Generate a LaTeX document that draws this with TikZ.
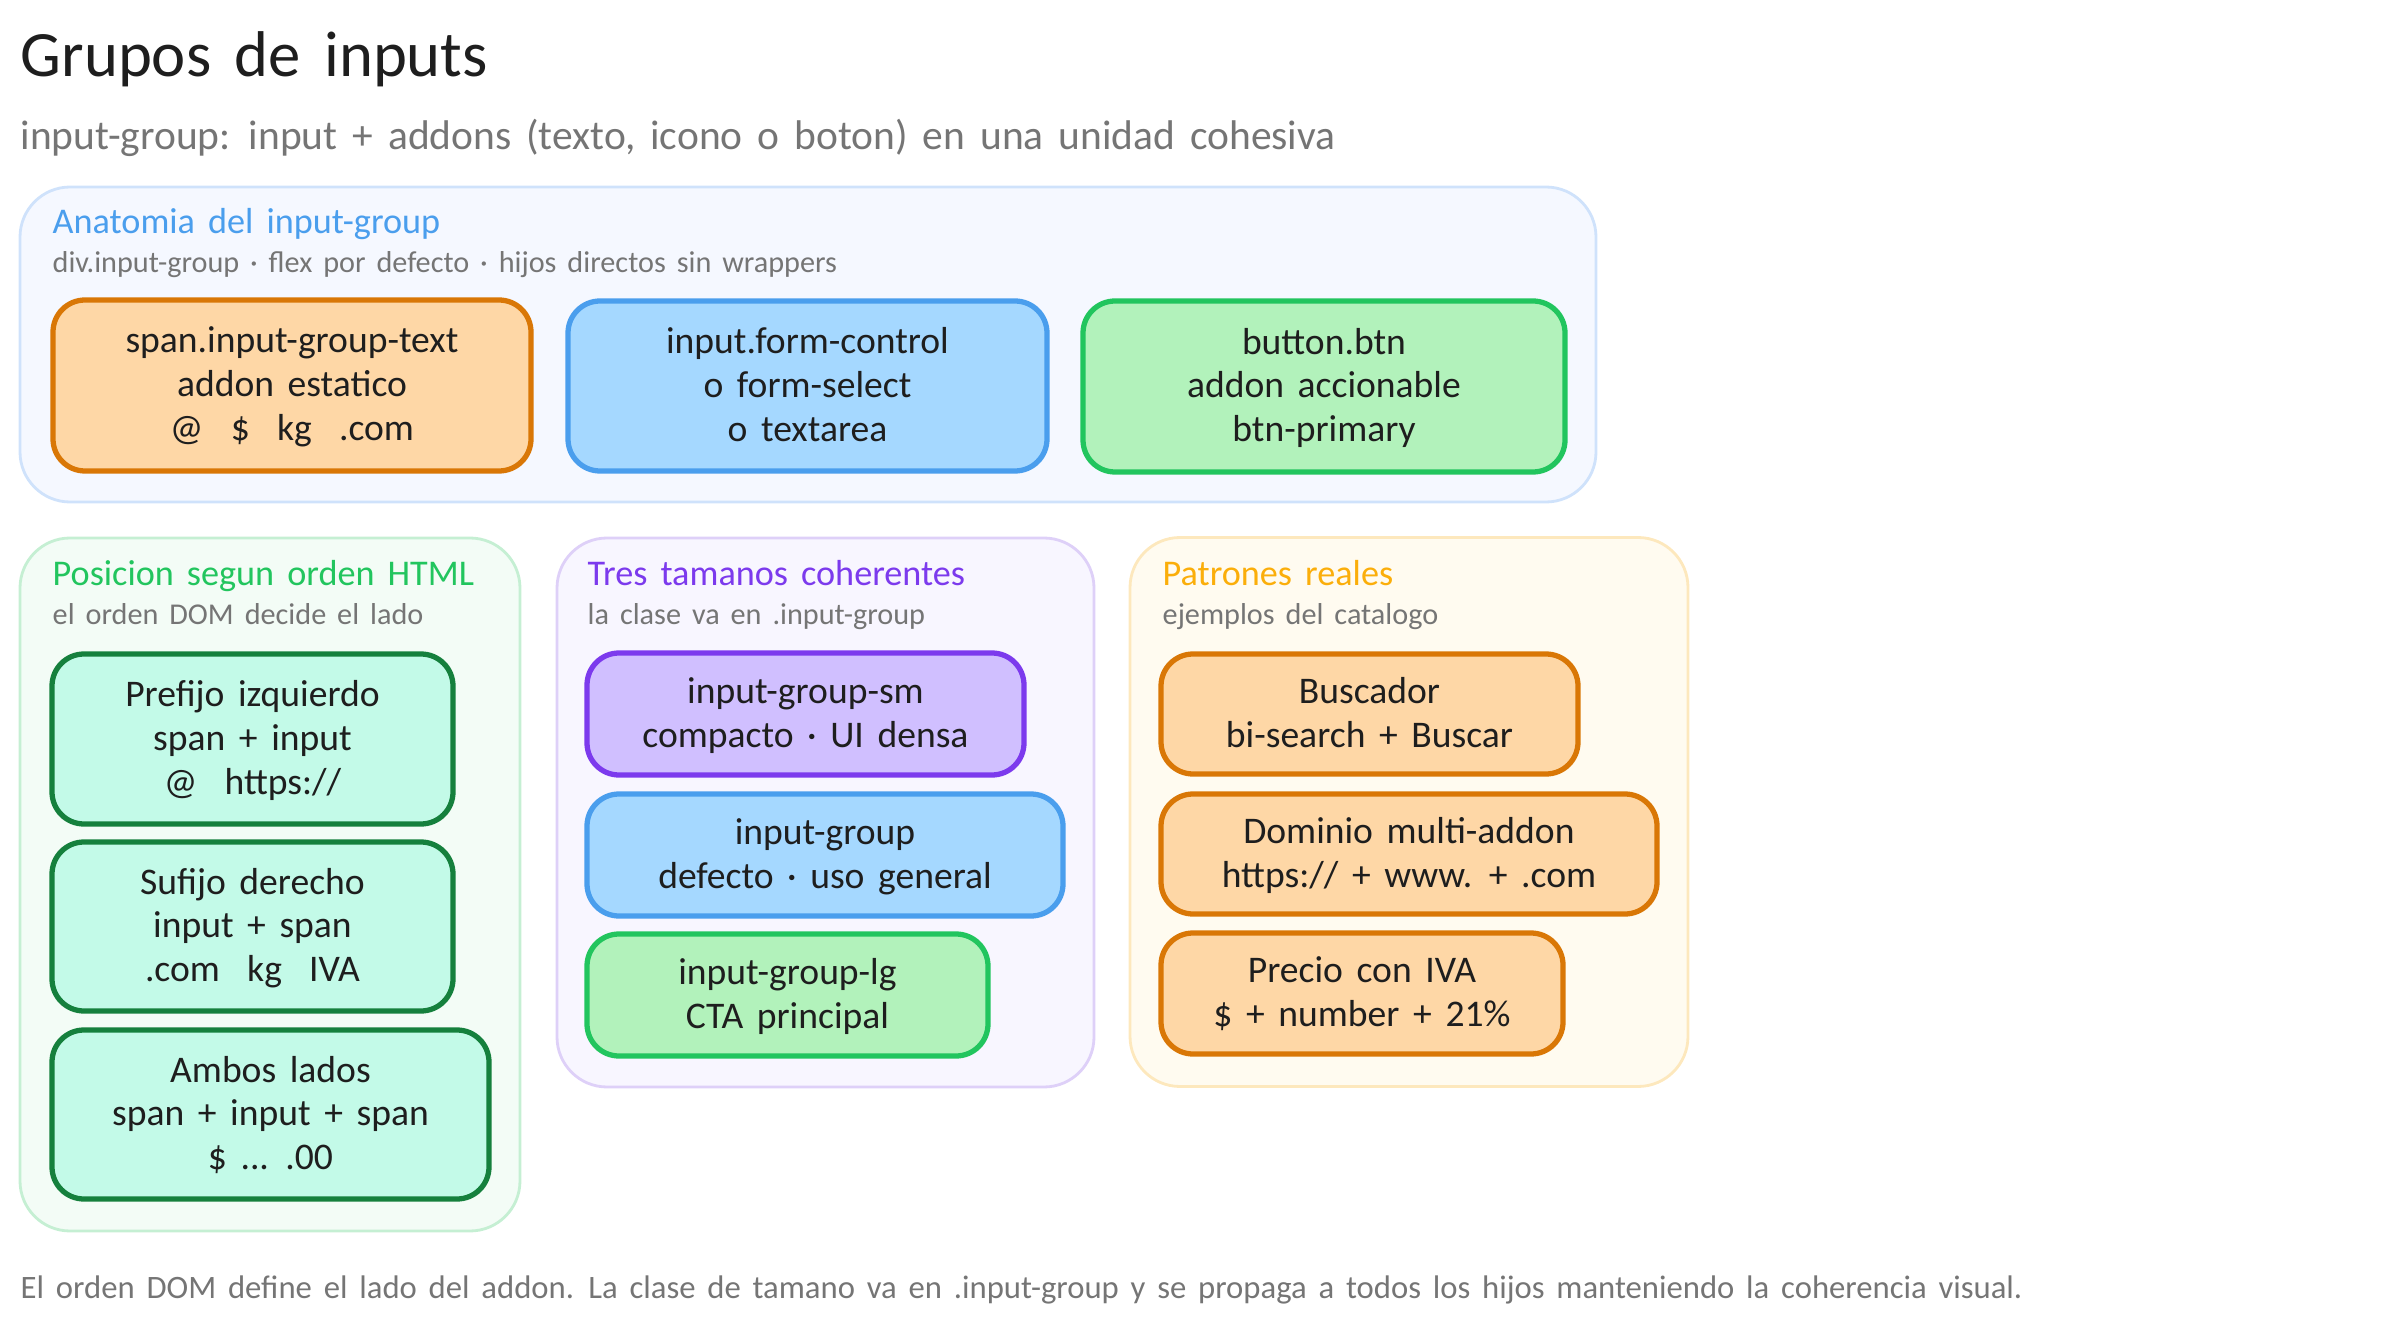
\documentclass[tikz,border=0pt]{standalone}
\usepackage{fontspec}
\setmainfont{Carlito}[WordSpace=1.6]
\usetikzlibrary{positioning}
\definecolor{inkdark}{HTML}{1E1E1E}
\definecolor{inkgray}{HTML}{757575}
\definecolor{blueline}{HTML}{4A9EED}
\definecolor{bluefill}{HTML}{A5D8FF}
\definecolor{orangeline}{HTML}{D97706}
\definecolor{orangefill}{HTML}{FED7A6}
\definecolor{greenline}{HTML}{22C55E}
\definecolor{greenfill}{HTML}{B2F2BB}
\definecolor{tealline}{HTML}{15803D}
\definecolor{tealfill}{HTML}{C3FAE8}
\definecolor{purpleline}{HTML}{7C3AED}
\definecolor{purplefill}{HTML}{D0BFFF}
\definecolor{amberline}{HTML}{FBAE0A}
\definecolor{anatomyfill}{HTML}{F5F8FF}
\definecolor{anatomyline}{HTML}{CFE2FB}
\definecolor{positionfill}{HTML}{F3FCF6}
\definecolor{positionline}{HTML}{C5EFD3}
\definecolor{sizesfill}{HTML}{F8F6FF}
\definecolor{sizesline}{HTML}{DED0F8}
\definecolor{patternsfill}{HTML}{FFFBF0}
\definecolor{patternsline}{HTML}{FDE8BD}
\tikzset{
  panel/.style={rounded corners=5mm, line width=0.8pt},
  chip/.style={rounded corners=3.2mm, line width=1.5pt, align=center, text=inkdark, inner sep=0pt,
    font=\fontsize{10.7}{12.5}\selectfont, text depth=0.9pt},
  orangechip/.style={chip, draw=orangeline, fill=orangefill},
  bluechip/.style={chip, draw=blueline, fill=bluefill},
  greenchip/.style={chip, draw=greenline, fill=greenfill},
  tealchip/.style={chip, draw=tealline, fill=tealfill},
  purplechip/.style={chip, draw=purpleline, fill=purplefill},
  plaintext/.style={anchor=base west, inner sep=0pt},
  paneltitle/.style={plaintext, font=\fontsize{10.3}{12}\selectfont},
  panelnote/.style={plaintext, text=inkgray, font=\fontsize{8.6}{10}\selectfont}
}
\begin{document}
\begin{tikzpicture}[x=0.1mm,y=-0.1mm]
  \useasboundingbox (0,0) rectangle (2408,1327);

  % Heading
  \node[plaintext, text=inkdark, font=\fontsize{18.4}{22}\selectfont] (heading) at (20,77) {Grupos de inputs};
  \node[plaintext, text=inkgray, font=\fontsize{11.8}{14}\selectfont] (subheading) at (20,150) {input-group: input + addons (texto, icono o boton) en una unidad cohesiva};

  % Panels
  \node[panel, draw=anatomyline, fill=anatomyfill, minimum width=157.6mm, minimum height=31.5mm] (anatomy) at (808,344.5) {};
  \node[panel, draw=positionline, fill=positionfill, minimum width=50mm, minimum height=69.3mm] (position) at (270,884.5) {};
  \node[panel, draw=sizesline, fill=sizesfill, minimum width=53.7mm, minimum height=54.9mm] (sizes) at (825.5,812.5) {};
  \node[panel, draw=patternsline, fill=patternsfill, minimum width=55.8mm, minimum height=54.9mm] (patterns) at (1409,812) {};

  % Anatomy
  \node[paneltitle, text=blueline] (anatomytitle) at (52,234) {Anatomia del input-group};
  \node[panelnote] (anatomynote) at (52,273) {div.input-group · flex por defecto · hijos directos sin wrappers};
  \node[orangechip, minimum width=47.8mm, minimum height=17.1mm] (spantext) at (292,385.5) {span.input-group-text\\addon estatico\\@~~\$~~kg~~.com};
  \node[bluechip, minimum width=47.9mm, minimum height=17mm] (formcontrol) at (807.5,386) {input.form-control\\o form-select\\o textarea};
  \node[greenchip, minimum width=48.2mm, minimum height=17.1mm] (buttonbtn) at (1324,386.5) {button.btn\\addon accionable\\btn-primary};

  % Position
  \node[paneltitle, text=greenline] (positiontitle) at (52,586) {Posicion segun orden HTML};
  \node[panelnote] (positionnote) at (52,624) {el orden DOM decide el lado};
  \node[tealchip, minimum width=40.1mm, minimum height=17mm] (prefix) at (252.5,739) {Prefijo izquierdo\\span + input\\@~~https://};
  \node[tealchip, minimum width=40.1mm, minimum height=16.9mm] (suffix) at (252.5,926.5) {Sufijo derecho\\input + span\\.com~~kg~~IVA};
  \node[tealchip, minimum width=43.7mm, minimum height=16.9mm] (bothsides) at (270.5,1114.5) {Ambos lados\\span + input + span\\\$ ... .00};

  % Sizes
  \node[paneltitle, text=purpleline] (sizestitle) at (587,586) {Tres tamanos coherentes};
  \node[panelnote] (sizesnote) at (587,624) {la clase va en .input-group};
  \node[purplechip, minimum width=43.7mm, minimum height=12.2mm] (groupsm) at (805.5,714) {input-group-sm\\compacto · UI densa};
  \node[bluechip, minimum width=47.6mm, minimum height=12.2mm] (groupmd) at (825,855) {input-group\\defecto · uso general};
  \node[greenchip, minimum width=40.1mm, minimum height=12.2mm] (grouplg) at (787.5,995) {input-group-lg\\CTA principal};

  % Patterns
  \node[paneltitle, text=amberline] (patternstitle) at (1162,586) {Patrones reales};
  \node[panelnote] (patternsnote) at (1162,624) {ejemplos del catalogo};
  \node[orangechip, minimum width=41.7mm, minimum height=12mm] (searchbox) at (1369.5,714) {Buscador\\bi-search + Buscar};
  \node[orangechip, minimum width=49.6mm, minimum height=12mm] (domainbox) at (1409,854) {Dominio multi-addon\\https:// + www. + .com};
  \node[orangechip, minimum width=40.2mm, minimum height=12.1mm] (pricebox) at (1362,993.5) {Precio con IVA\\\$ + number + 21\%};

  % Footer
  \node[plaintext, text=inkgray, font=\fontsize{9.3}{11}\selectfont] (footer) at (20,1298) {El orden DOM define el lado del addon. La clase de tamano va en .input-group y se propaga a todos los hijos manteniendo la coherencia visual.};
\end{tikzpicture}
\end{document}
